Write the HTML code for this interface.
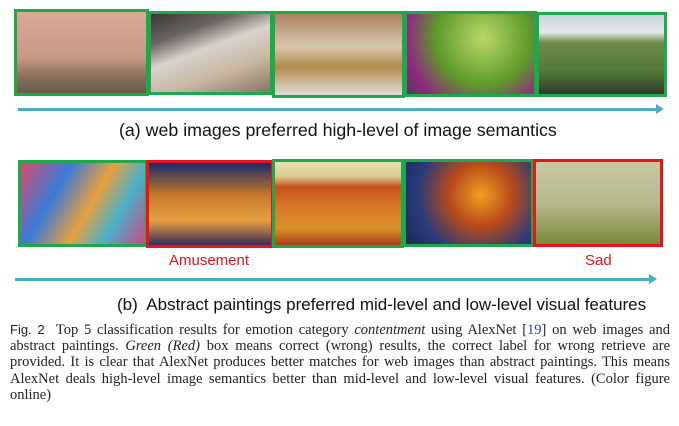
<!DOCTYPE html>
<html><head><meta charset="utf-8"><style>
body{margin:0;width:679px;height:426px;background:#fff;position:relative;overflow:hidden;font-family:"Liberation Sans",sans-serif}
.b{position:absolute;box-sizing:border-box;border:3px solid #1fa84a}
.r{border-color:#e8141c}
.t{position:absolute;white-space:nowrap}
.arrow{position:absolute;height:3px;background:#4bacc6}
.arrow:after{content:"";position:absolute;right:-6px;top:-4px;border-left:8px solid #4bacc6;border-top:5.5px solid transparent;border-bottom:5.5px solid transparent}
.cap{position:absolute;left:10px;top:322px;width:660px;font-family:"Liberation Serif",serif;font-size:14.5px;line-height:16.2px;text-align:justify;color:#222}
</style></head><body>
<div class="b" style="left:14px;top:9px;width:135px;height:87px;background:linear-gradient(#d9a996,#c99a88 55%,#8a6e5c 80%,#6c5a48)"></div>
<div class="b" style="left:148px;top:11px;width:125px;height:84px;background:linear-gradient(160deg,#3a3838 0%,#6b6461 25%,#d8d2cc 45%,#c8b8a2 70%,#8a7560)"></div>
<div class="b" style="left:272px;top:11px;width:133px;height:87px;background:linear-gradient(#a88460,#d9c7b0 40%,#b38b4a 65%,#e0ddd8)"></div>
<div class="b" style="left:404px;top:11px;width:133px;height:86px;background:radial-gradient(circle at 60% 30%,#b9d86a,#5e9a2a 50%,#8e2a80 80%,#5a3a5a)"></div>
<div class="b" style="left:536px;top:12px;width:131px;height:85px;background:linear-gradient(#c8d4dc,#e4e8ea 22%,#6e8a4a 35%,#557a3a 70%,#2e3a2a)"></div>
<div class="arrow" style="left:18px;top:108px;width:640px"></div>
<div class="t" style="left:119px;top:120px;font-size:17.8px;color:#111">(a) web images preferred high-level of image semantics</div>

<div class="b" style="left:18px;top:160px;width:130px;height:87px;background:linear-gradient(120deg,#d84a6a,#3a7ad8 30%,#e8a040 55%,#4ab0c8 75%,#c84a8a)"></div>
<div class="b r" style="left:146px;top:160px;width:128px;height:88px;background:linear-gradient(#1a2a6a,#c87a2a 40%,#e8a040 70%,#3a2a5a)"></div>
<div class="b" style="left:272px;top:159px;width:132px;height:89px;background:linear-gradient(#e8e2b0,#d8c890 18%,#c8501a 30%,#d87a2a 55%,#d89028 80%,#a8401a)"></div>
<div class="b" style="left:403px;top:159px;width:131px;height:88px;background:radial-gradient(circle at 60% 40%,#f0a020,#b84a1a 35%,#2a3a7a 70%,#1a2a5a)"></div>
<div class="b r" style="left:533px;top:159px;width:130px;height:88px;background:linear-gradient(#c8c8a0,#b8b890 50%,#7a8a3a)"></div>
<div class="t" style="left:169px;top:252px;font-size:15px;color:#e8141c">Amusement</div>
<div class="t" style="left:585px;top:252px;font-size:15px;color:#e8141c">Sad</div>
<div class="arrow" style="left:15px;top:278px;width:636px"></div>
<div class="t" style="left:117px;top:295px;font-size:17px;color:#111">(b)&nbsp; Abstract paintings preferred mid-level and low-level visual features</div>

<div class="cap"><span style="font-family:'Liberation Sans',sans-serif;font-size:13px">Fig. 2</span>&nbsp; Top 5 classification results for emotion category <i>contentment</i> using AlexNet [<span style="color:#2a3ab8">19</span>] on web images and abstract paintings. <i>Green (Red)</i> box means correct (wrong) results, the correct label for wrong retrieve are provided. It is clear that AlexNet produces better matches for web images than abstract paintings. This means AlexNet deals high-level image semantics better than mid-level and low-level visual features. (Color figure online)</div>
</body></html>
